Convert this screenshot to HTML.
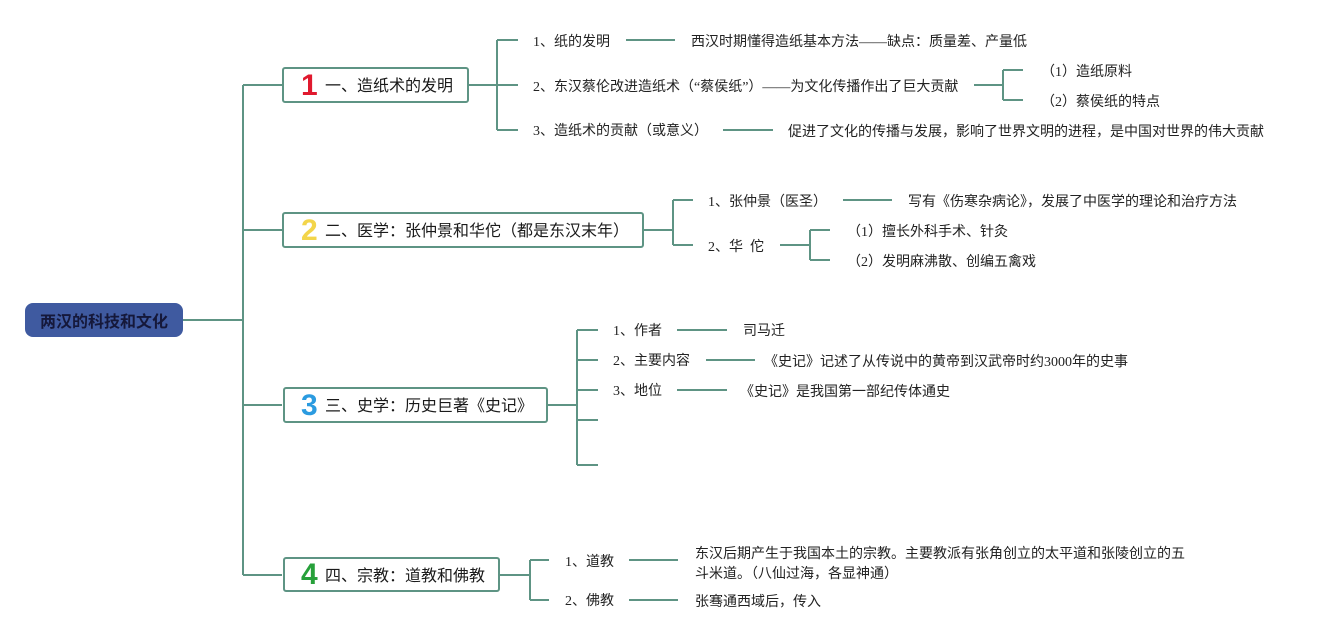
<!DOCTYPE html>
<html><head><meta charset="utf-8">
<style>
html,body{margin:0;padding:0;background:#fff;}
body{width:1324px;height:640px;position:relative;overflow:hidden;}
.t{position:absolute;font-family:"Liberation Serif","Noto Sans CJK SC",sans-serif;font-size:14px;line-height:20px;color:#222;white-space:nowrap;margin-top:2px;}
.box{position:absolute;box-sizing:border-box;border:2px solid #5e9484;border-radius:3px;background:#fff;}
.num{position:absolute;font-family:"Liberation Sans",sans-serif;font-weight:bold;font-size:30px;line-height:30px;margin-top:1px;}
.tt{position:absolute;font-family:"Liberation Sans","Noto Sans CJK SC",sans-serif;font-size:16px;line-height:22px;color:#1a1a1a;white-space:nowrap;margin-top:2px;}
.root{position:absolute;left:25px;top:303px;width:158px;height:34px;background:#3f5aa0;border-radius:8px;font-family:"Noto Sans CJK SC",sans-serif;font-weight:bold;font-size:16px;line-height:34px;text-align:center;color:#15183a;}
</style></head><body>
<svg width="1324" height="640" style="position:absolute;left:0;top:0" fill="none" stroke="#5e9484" stroke-width="2">
<path d="M183 320H243M243 85V575M243 85H282M243 230H282M243 405H282M243 575H282"/>
<path d="M469 85H518M497 40V130M497 40H518M497 130H518"/>
<path d="M626 40H675M723 130H773"/>
<path d="M974 85H1003M1003 70V100M1003 70H1023M1003 100H1023"/>
<path d="M644 230H673M673 200V245M673 200H693M673 245H693"/>
<path d="M843 200H892"/>
<path d="M780 245H810M810 230V260M810 230H830M810 260H830"/>
<path d="M548 405H577M577 330V465M577 330H598M577 360H598M577 390H598M577 420H598M577 465H598"/>
<path d="M677 330H727M706 360H755M677 390H727"/>
<path d="M500 575H530M530 560V600M530 560H549M530 600H549"/>
<path d="M629 560H678M629 600H678"/>
</svg>

<div class="root">两汉的科技和文化</div>

<div class="box" style="left:282px;top:67px;width:187px;height:36px;"></div>
<div class="num" style="left:301px;top:70px;color:#e0192e;">1</div>
<div class="tt" style="left:325px;top:74px;">一、造纸术的发明</div>

<div class="box" style="left:282px;top:212px;width:362px;height:36px;"></div>
<div class="num" style="left:301px;top:215px;color:#f3d54a;">2</div>
<div class="tt" style="left:325px;top:219px;">二、医学：张仲景和华佗（都是东汉末年）</div>

<div class="box" style="left:283px;top:387px;width:265px;height:36px;"></div>
<div class="num" style="left:301px;top:390px;color:#2b9be0;">3</div>
<div class="tt" style="left:325px;top:394px;">三、史学：历史巨著《史记》</div>

<div class="box" style="left:283px;top:557px;width:217px;height:35px;"></div>
<div class="num" style="left:301px;top:559px;color:#27a03a;">4</div>
<div class="tt" style="left:325px;top:564px;">四、宗教：道教和佛教</div>

<div class="t" style="left:533px;top:31px;">1、纸的发明</div>
<div class="t" style="left:691px;top:31px;">西汉时期懂得造纸基本方法——缺点：质量差、产量低</div>
<div class="t" style="left:533px;top:76px;">2、东汉蔡伦改进造纸术（“蔡侯纸”）——为文化传播作出了巨大贡献</div>
<div class="t" style="left:1041px;top:61px;">（1）造纸原料</div>
<div class="t" style="left:1041px;top:91px;">（2）蔡侯纸的特点</div>
<div class="t" style="left:533px;top:120px;">3、造纸术的贡献（或意义）</div>
<div class="t" style="left:788px;top:121px;">促进了文化的传播与发展，影响了世界文明的进程，是中国对世界的伟大贡献</div>

<div class="t" style="left:708px;top:191px;">1、张仲景（医圣）</div>
<div class="t" style="left:908px;top:191px;">写有《伤寒杂病论》，发展了中医学的理论和治疗方法</div>
<div class="t" style="left:708px;top:236px;">2、华&nbsp;&nbsp;佗</div>
<div class="t" style="left:847px;top:221px;">（1）擅长外科手术、针灸</div>
<div class="t" style="left:847px;top:251px;">（2）发明麻沸散、创编五禽戏</div>

<div class="t" style="left:613px;top:320px;">1、作者</div>
<div class="t" style="left:743px;top:320px;">司马迁</div>
<div class="t" style="left:613px;top:350px;">2、主要内容</div>
<div class="t" style="left:764px;top:351px;">《史记》记述了从传说中的黄帝到汉武帝时约3000年的史事</div>
<div class="t" style="left:613px;top:380px;">3、地位</div>
<div class="t" style="left:740px;top:381px;">《史记》是我国第一部纪传体通史</div>

<div class="t" style="left:565px;top:551px;">1、道教</div>
<div class="t" style="left:695px;top:543px;">东汉后期产生于我国本土的宗教。主要教派有张角创立的太平道和张陵创立的五<br>斗米道。（八仙过海，各显神通）</div>
<div class="t" style="left:565px;top:590px;">2、佛教</div>
<div class="t" style="left:695px;top:591px;">张骞通西域后，传入</div>
</body></html>
